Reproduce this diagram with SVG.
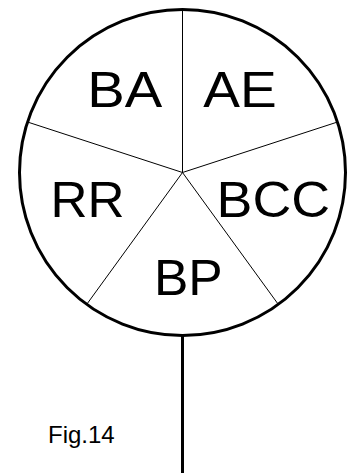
<svg xmlns="http://www.w3.org/2000/svg" width="350" height="473" viewBox="0 0 350 473">
<style>
.lbl{font-family:"Liberation Sans",Arial,sans-serif;font-size:50px;fill:#000;text-anchor:middle}
.spoke{stroke:#000;stroke-width:1;fill:none}
.rim{stroke:#000;stroke-width:3;fill:#fff}
</style>
<rect width="350" height="473" fill="#fff"/>
<g id="wheel">
<circle class="rim" cx="182.5" cy="172.5" r="163"/>
</g>
<g id="connectors">
<line class="spoke" x1="182.5" y1="172.5" x2="182.5" y2="10"/>
<line class="spoke" x1="182.5" y1="172.5" x2="337.5" y2="122"/>
<line class="spoke" x1="182.5" y1="172.5" x2="27.5" y2="122"/>
<line class="spoke" x1="182.5" y1="172.5" x2="278.3" y2="304.4"/>
<line class="spoke" x1="182.5" y1="172.5" x2="86.7" y2="304.4"/>
<line x1="182.5" y1="335" x2="182.5" y2="473" stroke="#000" stroke-width="3"/>
</g>
<g id="BA"><text class="lbl" x="124.7" y="107" textLength="75" lengthAdjust="spacingAndGlyphs">BA</text></g>
<g id="AE"><text class="lbl" x="240" y="107" textLength="73.5" lengthAdjust="spacingAndGlyphs">AE</text></g>
<g id="RR"><text class="lbl" x="87.5" y="217" textLength="74" lengthAdjust="spacingAndGlyphs">RR</text></g>
<g id="BCC"><text class="lbl" x="273.3" y="217" textLength="113.5" lengthAdjust="spacingAndGlyphs">BCC</text></g>
<g id="BP"><text class="lbl" x="188.3" y="295" textLength="68.7" lengthAdjust="spacingAndGlyphs">BP</text></g>
<g id="caption"><text x="48" y="443" font-family="'Liberation Sans',Arial,sans-serif" font-size="24" fill="#000">Fig.14</text></g>
</svg>
